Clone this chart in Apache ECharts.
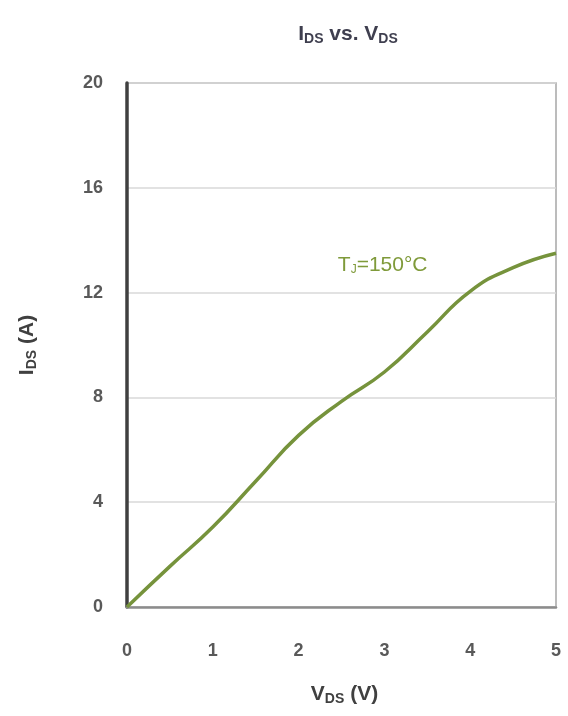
<!DOCTYPE html>
<html><head><meta charset="utf-8">
<script src="https://cdn.jsdelivr.net/npm/echarts@6/dist/echarts.min.js"></script>
<style>html,body{margin:0;padding:0;background:#fff}#c{width:568px;height:716px}</style>
</head><body><div id="c"></div>
<script>
const vds = [0, 0.5, 1, 1.5, 2, 2.5, 3, 3.5, 4, 4.5, 5];
const ids = [0, 1.55, 3.05, 4.8, 6.55, 7.85, 8.97, 10.5, 12.05, 12.95, 13.5];
const xTicks = [0, 1, 2, 3, 4, 5];
const yTicks = [0, 4, 8, 12, 16, 20];
const seriesLabel = 'T{sub|J}=150°C';
const labelAt = [2.98, 13.05];

const chart = echarts.init(document.getElementById('c'));
const ff = '"Liberation Sans", Arial, sans-serif';
chart.setOption({
  animation: false,
  title: {
    text: 'I{sub|DS} vs. V{sub|DS}',
    left: 343, top: 18, textAlign: 'center',
    textStyle: {
      fontFamily: ff, fontSize: 21, fontWeight: 'bold', color: '#3f3f4f',
      rich: { sub: { fontFamily: ff, fontSize: 14, fontWeight: 'bold', color: '#3f3f4f', padding: [9, 0, 0, 0] } }
    }
  },
  grid: { left: 127, right: 12, top: 83, bottom: 109, show: true, borderColor: '#a6a6a6', borderWidth: 1.5 },
  xAxis: {
    type: 'value', min: 0, max: 5, interval: 1,
    name: 'V{sub|DS} (V)', nameLocation: 'middle', nameGap: 76,
    nameTextStyle: {
      fontFamily: ff, fontSize: 21, fontWeight: 'bold', color: '#404040', padding: [0, 0, 0, 6],
      rich: { sub: { fontFamily: ff, fontSize: 14, fontWeight: 'bold', color: '#404040', padding: [9, 0, 0, 0] } }
    },
    axisLine: { show: true, lineStyle: { color: '#8c8c8c', width: 2.5 } },
    axisTick: { show: false },
    splitLine: { show: false },
    axisLabel: { margin: 35, fontFamily: ff, fontSize: 18, fontWeight: 'bold', color: '#595959',
      formatter: v => xTicks.includes(v) ? String(v) : '' }
  },
  yAxis: {
    type: 'value', min: 0, max: 20, interval: 4,
    name: 'I{sub|DS} (A)', nameLocation: 'middle', nameGap: 88, nameRotate: 90,
    nameTextStyle: {
      fontFamily: ff, fontSize: 21, fontWeight: 'bold', color: '#404040',
      rich: { sub: { fontFamily: ff, fontSize: 14, fontWeight: 'bold', color: '#404040', padding: [9, 0, 0, 0] } }
    },
    axisLine: { show: true, lineStyle: { color: '#404040', width: 3.5 } },
    axisTick: { show: false },
    splitLine: { show: true, lineStyle: { color: '#d9d9d9', width: 1.5 } },
    axisLabel: { margin: 24, fontFamily: ff, fontSize: 18, fontWeight: 'bold', color: '#595959',
      formatter: v => yTicks.includes(v) ? String(v) : '' }
  },
  series: [{
    type: 'line', smooth: 0.5, symbol: 'none',
    data: vds.map((v, i) => [v, ids[i]]),
    lineStyle: { color: '#76933c', width: 3.5 },
    markPoint: {
      symbol: 'circle', symbolSize: 0, silent: true,
      data: [{ coord: labelAt }],
      label: {
        show: true, position: 'inside', formatter: seriesLabel,
        fontFamily: ff, fontSize: 21, color: '#7f9a3a',
        rich: { sub: { fontFamily: ff, fontSize: 12, color: '#7f9a3a', padding: [10, 0, 0, 0] } }
      }
    }
  }]
});
</script></body></html>
